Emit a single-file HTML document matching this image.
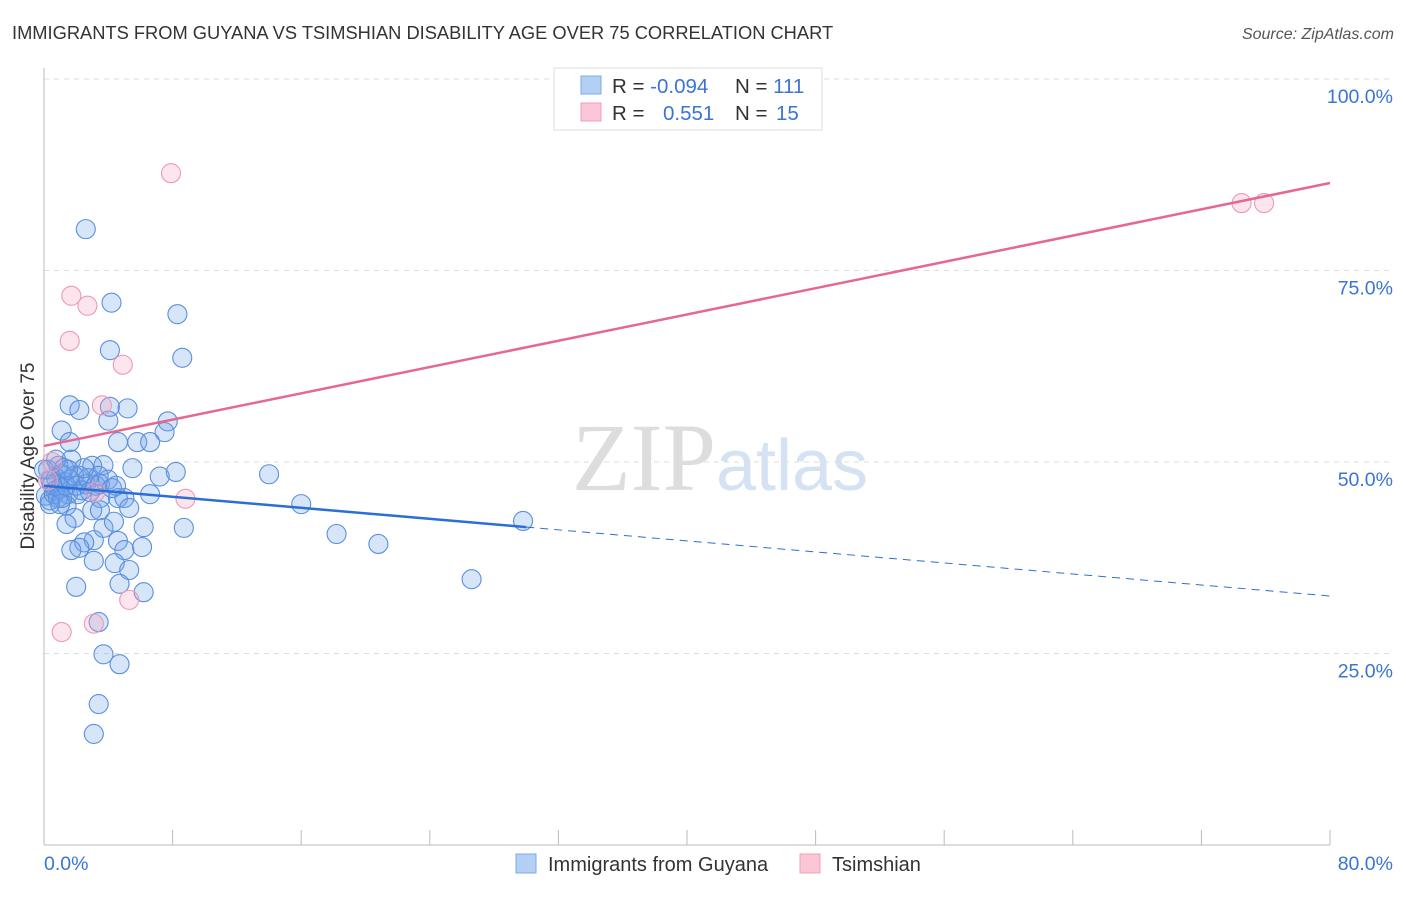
<!DOCTYPE html>
<html><head><meta charset="utf-8"><style>
body{margin:0;background:#fff;font-family:"Liberation Sans",sans-serif}
</style></head><body>
<svg width="1406" height="892" xmlns="http://www.w3.org/2000/svg" font-family="Liberation Sans, sans-serif">
<text x="12" y="39" font-size="18.3" fill="#333">IMMIGRANTS FROM GUYANA VS TSIMSHIAN DISABILITY AGE OVER 75 CORRELATION CHART</text>
<text x="1394" y="39" font-size="16" fill="#555" font-style="italic" text-anchor="end">Source: ZipAtlas.com</text>
<text x="720" y="490" font-size="96" text-anchor="middle"><tspan font-family="Liberation Serif, serif" fill="#ddd">ZIP</tspan><tspan fill="#d5e2f3" font-size="72">atlas</tspan></text>
<g id="grid"></g><g id="axes"></g><g id="marks"></g>
<text transform="translate(34,456) rotate(-90)" font-size="19" fill="#333" text-anchor="middle">Disability Age Over 75</text>
<g>
<rect x="554" y="68" width="268" height="62" fill="#fff" stroke="#ddd"/>
<rect x="581" y="76" width="20" height="18" fill="#b3cff4" stroke="#7fa9e6"/>
<rect x="581" y="103" width="20" height="18" fill="#fbc6d6" stroke="#f0a0b8"/>
<text x="612" y="93" font-size="20.5" fill="#333">R = <tspan fill="#3a74d4">-0.094</tspan></text>
<text x="735" y="93" font-size="20.5" fill="#333">N = <tspan fill="#3a74d4">111</tspan></text>
<text x="612" y="120" font-size="20.5" fill="#333">R = <tspan fill="#3a74d4" x="663">0.551</tspan></text>
<text x="735" y="120" font-size="20.5" fill="#333">N = <tspan fill="#3a74d4" x="776">15</tspan></text>
</g>
<g>
<rect x="516" y="854" width="20" height="19" fill="#b3cff4" stroke="#7fa9e6"/>
<text x="548" y="871" font-size="20" fill="#333">Immigrants from Guyana</text>
<rect x="800" y="854" width="20" height="19" fill="#fbc6d6" stroke="#f0a0b8"/>
<text x="832" y="871" font-size="20" fill="#333">Tsimshian</text>
</g>
</svg>
<script>
const yTicks=[25,50,75,100];
const yTickLabels=["25.0%","50.0%","75.0%","100.0%"];
const xEndLabels=["0.0%","80.0%"];
const blueX=[2.6,4.2,8.3,4.1,8.6,1.6,2.2,4.1,5.2,4.0,7.7,1.1,7.5,1.6,4.6,5.8,6.6,14.0,7.2,8.2,5.5,3.7,3.0,1.7,0.9,1.1,2.2,3.4,0.4,0.7,1.5,2.1,3.5,4.6,5.0,6.6,16.0,1.4,3.0,5.3,1.9,3.7,1.4,6.2,8.7,18.2,4.6,3.1,2.5,2.2,1.7,5.0,6.1,20.8,3.1,4.4,5.3,29.8,26.6,2.0,4.7,6.2,3.4,3.7,4.7,3.4,3.1,
0.25,0.5,0.75,1.0,1.25,0.12,0.37,0.62,0.87,1.12,1.37,1.62,1.87,2.0,2.36,2.61,2.74,2.86,3.23,3.48,3.98,4.23,4.48,0.75,1.25,2.49,0.37,1.0,1.49,0,3.48,4.35];
const blueY=[80.4,70.8,69.3,64.6,63.6,57.4,56.8,57.2,57.0,55.4,55.3,54.1,53.9,52.6,52.6,52.6,52.6,48.4,48.1,48.7,49.2,49.6,49.5,50.3,49.5,48.4,48.2,48.2,47.6,46.3,45.8,45.8,45.3,45.3,45.3,45.8,44.5,44.3,43.7,44.0,42.7,41.4,41.9,41.5,41.4,40.6,39.7,39.8,39.5,38.8,38.5,38.5,38.9,39.3,37.1,36.8,35.9,42.3,34.7,33.7,34.1,33.0,29.1,24.9,23.6,18.4,14.5,
49.0,47.1,47.9,46.6,47.4,45.6,45.0,45.8,45.3,45.3,46.9,47.7,48.2,46.9,46.3,47.1,47.9,46.1,46.9,47.1,47.7,46.6,46.9,50.3,49.2,49.2,44.5,44.5,49.0,49.0,43.7,42.2];
const pinkX=[7.9,74.5,75.9,1.7,2.7,1.6,4.9,3.6,8.8,3.2,0.5,0.25,1.1,3.1,5.3];
const pinkY=[87.7,83.8,83.8,71.7,70.4,65.8,62.7,57.4,45.2,46.1,50.0,47.6,27.8,28.9,32.0];
const blueTrend=[46.9,-0.18];
const pinkTrend=[52.1,0.429];
const blueSolidEnd=30;
const NS="http://www.w3.org/2000/svg";
const X0=44,X1=1330,Y0=845,Y100=79;
const sx=v=>X0+(v/80)*(X1-X0);
const sy=v=>Y0-(v/100)*(Y0-Y100);
function mk(tag,attrs,parent){const e=document.createElementNS(NS,tag);for(const k in attrs)e.setAttribute(k,attrs[k]);document.getElementById(parent).appendChild(e);return e;}
yTicks.forEach((t,i)=>{
 const l=mk('line',{x1:X0,x2:1393,y1:sy(t),y2:sy(t),stroke:'#ddd','stroke-dasharray':'5,5'},'grid');
 
 
 const tx=mk('text',{x:1393,y:sy(t)+24,'font-size':19.5,fill:'#3a74d4','text-anchor':'end'},'axes');
 tx.textContent=yTickLabels[i];
 
 
});
const ax=mk('line',{x1:X0,x2:X1,y1:Y0,y2:Y0,stroke:'#bbb'},'axes');


const ay=mk('line',{x1:X0,x2:X0,y1:68,y2:Y0,stroke:'#bbb'},'axes');


for(let i=0;i<=10;i++){
 const t=mk('line',{x1:sx(i*8),x2:sx(i*8),y1:830,y2:Y0,stroke:'#bbb'},'axes');
 
 
}
[[0,'start',44],[80,'end',1393]].forEach((d,i)=>{
 const t=mk('text',{x:d[2],y:870,'font-size':19.5,fill:'#3a74d4','text-anchor':d[1]},'axes');
 t.textContent=xEndLabels[i];
 
 
});
blueX.forEach((v,i)=>{
 const c=mk('circle',{cx:sx(v),cy:sy(blueY[i]),r:9.5,fill:'rgba(110,160,235,0.28)',stroke:'#5a8fde','stroke-width':1.1},'marks');
 
 
});
pinkX.forEach((v,i)=>{
 const c=mk('circle',{cx:sx(v),cy:sy(pinkY[i]),r:9.5,fill:'rgba(245,160,190,0.28)',stroke:'#eb9ab4','stroke-width':1.1},'marks');
 
 
});
const bt=x=>blueTrend[0]+blueTrend[1]*x, pt=x=>pinkTrend[0]+pinkTrend[1]*x;
let l1=mk('line',{x1:sx(0),y1:sy(bt(0)),x2:sx(blueSolidEnd),y2:sy(bt(blueSolidEnd)),stroke:'#2a6fd6','stroke-width':2.5},'marks');


let l2=mk('line',{x1:sx(blueSolidEnd),y1:sy(bt(blueSolidEnd)),x2:sx(80),y2:sy(bt(80)),stroke:'#2a6fd6','stroke-width':1,'stroke-dasharray':'8,6'},'marks');


let l3=mk('line',{x1:sx(0),y1:sy(pt(0)),x2:sx(80),y2:sy(pt(80)),stroke:'#e6688f','stroke-width':2.5},'marks');


</script>
</body></html>
